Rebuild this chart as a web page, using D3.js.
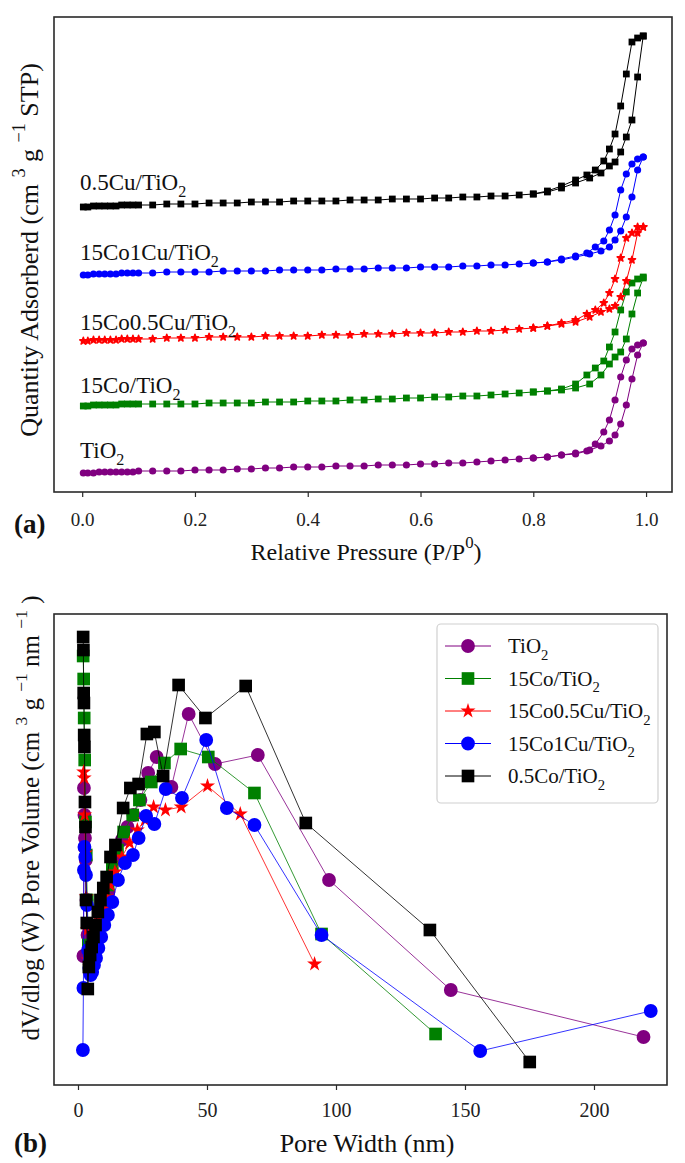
<!DOCTYPE html>
<html>
<head>
<meta charset="utf-8">
<script src="https://cdn.jsdelivr.net/npm/d3@7/dist/d3.min.js"></script>
<style>
  body { margin: 0; background: #fff; }
  svg { display: block; }
  svg text { font-family: "Liberation Serif", "Times New Roman", serif; }
</style>
</head>
<body>
<div id="chart"></div>
<script>
// ---- (a) N2 isotherms, quantity in arbitrary units (curves are offset) ----
const low_p = [0.002, 0.01, 0.02, 0.03, 0.04, 0.05, 0.06, 0.07, 0.08, 0.09, 0.1];
const mid_p = [0.125, 0.15, 0.175, 0.2, 0.225, 0.25, 0.275, 0.3, 0.325, 0.35, 0.375, 0.4, 0.425, 0.45,
  0.475, 0.5, 0.525, 0.55, 0.575, 0.6, 0.625, 0.65, 0.675, 0.7, 0.725, 0.75, 0.775, 0.8];
const high_p = [0.825, 0.85, 0.875, 0.9, 0.92, 0.935, 0.945, 0.955, 0.965, 0.975, 0.985, 0.995];
const ads_p = low_p.concat(mid_p, high_p);
const des_p = [0.995, 0.985, 0.975, 0.965, 0.955, 0.945, 0.935, 0.925, 0.91, 0.895, 0.875, 0.85, 0.825, 0.8];

const cu05_ads = [285, 285, 286, 286, 286, 286, 286, 287, 287, 287, 287,
  287, 288, 288, 288, 289, 289, 289, 290, 290, 290, 291, 291, 291, 291, 292, 292, 292, 293, 293, 293, 294, 294, 295, 295, 296, 296, 297, 298,
  300, 304, 309, 314, 319, 326, 330, 340, 355, 372, 415, 456];
const cu05_des = [456, 454, 450, 418, 386, 358, 343, 331, 322, 317, 312, 306, 301, 298];

const co15cu1_ads = [217, 217, 218, 218, 218, 218, 218, 219, 219, 219, 219,
  219, 220, 220, 220, 220, 221, 221, 221, 221, 222, 222, 222, 222, 223, 223, 223, 224, 224, 224, 225, 225, 225, 226, 226, 227, 227, 228, 229,
  230, 232, 235, 238, 241, 245, 252, 261, 275, 295, 322, 335];
const co15cu1_des = [335, 333, 328, 318, 302, 277, 262, 251, 245, 239, 236, 233, 230, 229];

const co15cu05_ads = [151, 151, 152, 152, 152, 152, 152, 153, 153, 153, 153,
  153, 154, 154, 154, 155, 155, 155, 155, 156, 156, 156, 156, 157, 157, 157, 158, 158, 158, 159, 159, 159, 160, 160, 161, 161, 162, 163, 164,
  166, 168, 170, 175, 180, 183, 186, 195, 211, 232, 259, 265];
const co15cu05_des = [265, 265, 259, 254, 234, 213, 199, 189, 182, 178, 172, 169, 166, 164];

const co15_ads = [86, 86, 87, 87, 87, 87, 87, 88, 88, 88, 88,
  88, 88, 88, 88, 89, 89, 89, 89, 90, 90, 90, 91, 91, 91, 92, 92, 93, 93, 94, 94, 95, 95, 96, 96, 97, 98, 99, 100,
  101, 102, 104, 108, 117, 128, 135, 140, 153, 178, 199, 214];
const co15_des = [215, 213, 209, 200, 182, 160, 145, 131, 124, 117, 108, 103, 101, 100];

const tio2_ads = [19, 19, 19, 20, 20, 20, 20, 20, 20, 20, 21,
  21, 21, 21, 22, 22, 22, 23, 23, 24, 24, 25, 25, 25, 26, 26, 26, 27, 27, 27, 28, 28, 29, 29, 30, 31, 32, 33, 34,
  35, 37, 39, 42, 46, 51, 57, 68, 87, 113, 137, 149];
const tio2_des = [149, 147, 143, 132, 115, 92, 72, 60, 48, 41, 38, 37, 35, 34];

const pressure_ticks = [0, 0.2, 0.4, 0.6, 0.8, 1.0];

// ---- (b) pore size distributions, dV/dlog(W) in arbitrary units ----
const tio2_w = [219.2, 144.5, 97.3, 69.7, 53.1, 42.9, 36.2, 30.5, 27.2, 24.2, 21.5, 19.2, 17.0, 15.0, 13.3, 11.8,
  10.4, 9.2, 8.1, 7.2, 6.4, 5.7, 5.1, 4.6, 4.1, 3.7, 3.3, 3.0, 2.7, 2.5, 2.3, 2.1];
const tio2_v = [48, 95, 205, 330, 321, 371, 298, 328, 312, 285, 270, 258, 245, 227, 210, 193,
  179, 165, 152, 140, 130, 123, 117, 113, 127, 150, 185, 225, 247, 270, 297, 129];

const co15_w = [138.6, 94.4, 68.4, 50.5, 39.8, 33.5, 28.4, 23.8, 21.2, 17.7, 15.3, 13.3, 11.7, 10.3, 9.1,
  8.0, 7.1, 6.3, 5.6, 5.0, 4.5, 4.0, 3.6, 3.2, 2.9, 2.6, 2.4, 2.2, 2.0];
const co15_v = [51, 151, 292, 328, 336, 322, 303, 285, 270, 253, 235, 218, 200, 185, 170,
  157, 145, 133, 125, 118, 120, 140, 185, 230, 263, 325, 367, 406, 429];

const co15cu05_w = [91.7, 62.9, 50.2, 40.0, 33.9, 29.3, 26.0, 23.0, 20.0, 17.0, 14.3, 12.5, 11.0, 9.7,
  8.6, 7.6, 6.7, 5.9, 5.2, 4.6, 4.1, 3.6, 3.2, 2.9, 2.6, 2.4, 2.2];
const co15cu05_v = [121, 271, 299, 278, 275, 278, 265, 255, 242, 228, 213, 200, 188, 176,
  165, 153, 142, 132, 124, 118, 125, 155, 188, 232, 270, 307, 313];

const co15cu1_w = [222.0, 155.9, 94.4, 68.4, 57.7, 49.7, 40.3, 34.0, 29.6, 26.4, 23.5, 21.3, 18.2, 15.5, 13.3, 11.6,
  10.2, 9.0, 7.9, 7.0, 6.2, 5.5, 4.9, 4.4, 3.9, 3.5, 3.1, 2.8, 2.5, 2.3, 2.1, 1.9];
const co15cu1_v = [74, 34, 150, 260, 277, 345, 287, 296, 261, 269, 247, 230, 222, 205, 183, 170,
  160, 148, 137, 127, 120, 113, 110, 117, 135, 180, 210, 228, 238, 215, 97, 35];

const co05_w = [175.1, 136.4, 88.3, 65.0, 49.4, 39.0, 33.0, 29.6, 26.7, 23.5, 20.3, 17.5, 14.5, 12.6, 11.1, 9.8, 8.7,
  7.7, 6.8, 6.0, 5.3, 4.7, 4.2, 3.8, 3.4, 3.1, 2.9, 2.7, 2.5, 2.4, 2.3, 2.2, 2.1, 2.0];
const co05_v = [23, 155, 262, 399, 367, 400, 309, 353, 351, 301, 297, 277, 240, 228, 208, 197, 185,
  173, 160, 148, 138, 130, 118, 96, 162, 185, 258, 283, 338, 350, 382, 392, 435, 448];

const width_ticks = [0, 50, 100, 150, 200];

// ---- layout ----
const width = 685, height = 1163;
const serif = '"Liberation Serif", "Times New Roman", serif';
const box_a = { left: 54, right: 672, top: 17, bottom: 492 };
const box_b = { left: 54, right: 667, top: 614, bottom: 1085 };

const svg = d3.select("#chart").append("svg")
  .attr("width", width).attr("height", height);

// text with sub/superscripts: parts = [[text, "" | "sub" | "sup"], ...]
function richText(g, x, y, parts, size, anchor = "start") {
  const t = g.append("text").attr("x", x).attr("y", y)
    .attr("font-family", serif).attr("font-size", size)
    .attr("text-anchor", anchor).attr("fill", "#111");
  let shift = 0;
  for (const [s, kind] of parts) {
    const target = kind === "sub" ? size * 0.32 : kind === "sup" ? -size * 0.5 : 0;
    const ts = t.append("tspan").attr("dy", target - shift).text(s);
    if (kind) ts.attr("font-size", size * 0.7);
    shift = target;
  }
  return t;
}

function frame(box) {
  svg.append("rect")
    .attr("x", box.left).attr("y", box.top)
    .attr("width", box.right - box.left).attr("height", box.bottom - box.top)
    .attr("fill", "none").attr("stroke", "#2a2a2a").attr("stroke-width", 1.6);
}

function bottomAxis(scale, box, values, fmt, size, pad) {
  const g = svg.append("g")
    .attr("transform", `translate(0,${box.bottom})`)
    .call(d3.axisBottom(scale).tickValues(values).tickFormat(fmt)
      .tickSize(5).tickSizeOuter(0).tickPadding(pad));
  g.attr("font-family", serif);
  g.select(".domain").remove();
  g.selectAll("line").attr("stroke", "#2a2a2a").attr("stroke-width", 1.2);
  g.selectAll("text").attr("font-size", size)
    .attr("font-family", serif).attr("fill", "#222");
}

// ================= (a) =================
const xa = d3.scaleLinear().domain([-0.05, 1.046]).range([box_a.left, box_a.right]);
const ya = d3.scaleLinear().domain([0, 475]).range([box_a.bottom, box_a.top]);

const iso_series = [
  { label: "TiO", color: "purple", symbol: d3.symbolCircle, size: 40, ads: tio2_ads, des: tio2_des, ly: 458 },
  { label: "15Co/TiO", color: "green", symbol: d3.symbolSquare, size: 46, ads: co15_ads, des: co15_des, ly: 393 },
  { label: "15Co0.5Cu/TiO", color: "red", symbol: d3.symbolStar, size: 16, ads: co15cu05_ads, des: co15cu05_des, ly: 330 },
  { label: "15Co1Cu/TiO", color: "blue", symbol: d3.symbolCircle, size: 40, ads: co15cu1_ads, des: co15cu1_des, ly: 260 },
  { label: "0.5Cu/TiO", color: "black", symbol: d3.symbolSquare, size: 46, ads: cu05_ads, des: cu05_des, ly: 190 },
];

const line_a = d3.line().x(d => xa(d[0])).y(d => ya(d[1]));

for (const s of iso_series) {
  const pts = ads_p.map((p, i) => [p, s.ads[i]])
    .concat(des_p.map((p, i) => [p, s.des[i]]));
  const g = svg.append("g");
  g.append("path").datum(pts).attr("d", line_a)
    .attr("fill", "none").attr("stroke", s.color).attr("stroke-width", 1);
  g.selectAll("path.m").data(pts).join("path").attr("class", "m")
    .attr("transform", d => `translate(${xa(d[0])},${ya(d[1])})`)
    .attr("d", d3.symbol(s.symbol, s.size)).attr("fill", s.color)
    .attr("stroke", s.color).attr("stroke-width", s.symbol === d3.symbolStar ? 1.5 : 0)
    .attr("stroke-linejoin", "round");
  richText(svg, 80, s.ly, [[s.label, ""], ["2", "sub"]], 23);
}

frame(box_a);
bottomAxis(xa, box_a, pressure_ticks, d3.format(".1f"), 19, 16);

richText(svg, 366, 560, [["Relative Pressure (P/P", ""], ["0", "sup"], [")", ""]], 24, "middle");
svg.append("g").attr("transform", "translate(38,250) rotate(-90)")
  .call(g => richText(g, 0, 0,
    [["Quantity Adsorberd (cm ", ""], ["3", "sup"], ["  g ", ""], ["\u22121", "sup"], ["  STP)", ""]], 26, "middle"));
svg.append("text").attr("x", 14).attr("y", 533).attr("font-family", serif).attr("font-size", 27)
  .attr("font-weight", "bold").attr("fill", "#111").text("(a)");

// ================= (b) =================
const xb = d3.scaleLinear().domain([-9.3, 228.3]).range([box_b.left, box_b.right]);
const yb = d3.scaleLinear().domain([0, 471]).range([box_b.bottom, box_b.top]);

const psd_series = [
  { label: "TiO", color: "purple", symbol: d3.symbolCircle, size: 150, w: tio2_w, v: tio2_v },
  { label: "15Co/TiO", color: "green", symbol: d3.symbolSquare, size: 160, w: co15_w, v: co15_v },
  { label: "15Co0.5Cu/TiO", color: "red", symbol: d3.symbolStar, size: 70, w: co15cu05_w, v: co15cu05_v },
  { label: "15Co1Cu/TiO", color: "blue", symbol: d3.symbolCircle, size: 150, w: co15cu1_w, v: co15cu1_v },
  { label: "0.5Co/TiO", color: "black", symbol: d3.symbolSquare, size: 160, w: co05_w, v: co05_v },
];

const line_b = d3.line().x(d => xb(d[0])).y(d => yb(d[1]));

for (const s of psd_series) {
  const pts = s.w.map((w, i) => [w, s.v[i]]);
  const g = svg.append("g");
  g.append("path").datum(pts).attr("d", line_b)
    .attr("fill", "none").attr("stroke", s.color).attr("stroke-width", 1).attr("opacity", 0.8);
  g.selectAll("path.m").data(pts).join("path").attr("class", "m")
    .attr("transform", d => `translate(${xb(d[0])},${yb(d[1])})`)
    .attr("d", d3.symbol(s.symbol, s.size)).attr("fill", s.color);
}

// legend
const legend = svg.append("g");
legend.append("rect").attr("x", 437).attr("y", 624).attr("width", 221).attr("height", 179)
  .attr("rx", 4).attr("fill", "#fff").attr("fill-opacity", 0.85)
  .attr("stroke", "#d0d0d0").attr("stroke-width", 1.2);
psd_series.forEach((s, i) => {
  const cy = 646 + i * 32.5;
  legend.append("line").attr("x1", 445).attr("x2", 491).attr("y1", cy).attr("y2", cy)
    .attr("stroke", s.color).attr("stroke-width", 1);
  legend.append("path").attr("transform", `translate(468,${cy})`)
    .attr("d", d3.symbol(s.symbol, s.size)).attr("fill", s.color);
  richText(legend, 508, cy + 7, [[s.label, ""], ["2", "sub"]], 21);
});

frame(box_b);
bottomAxis(xb, box_b, width_ticks, d3.format("d"), 20, 13);

richText(svg, 367, 1152, [["Pore Width (nm)", ""]], 26, "middle");
svg.append("g").attr("transform", "translate(39,818) rotate(-90)")
  .call(g => richText(g, 0, 0,
    [["dV/dlog (W) Pore Volume (cm ", ""], ["3", "sup"], ["  g ", ""], ["\u22121", "sup"],
     ["  nm ", ""], ["\u22121", "sup"], [" )", ""]], 25, "middle"));
svg.append("text").attr("x", 14).attr("y", 1152).attr("font-family", serif).attr("font-size", 27)
  .attr("font-weight", "bold").attr("fill", "#111").text("(b)");
</script>
</body>
</html>
